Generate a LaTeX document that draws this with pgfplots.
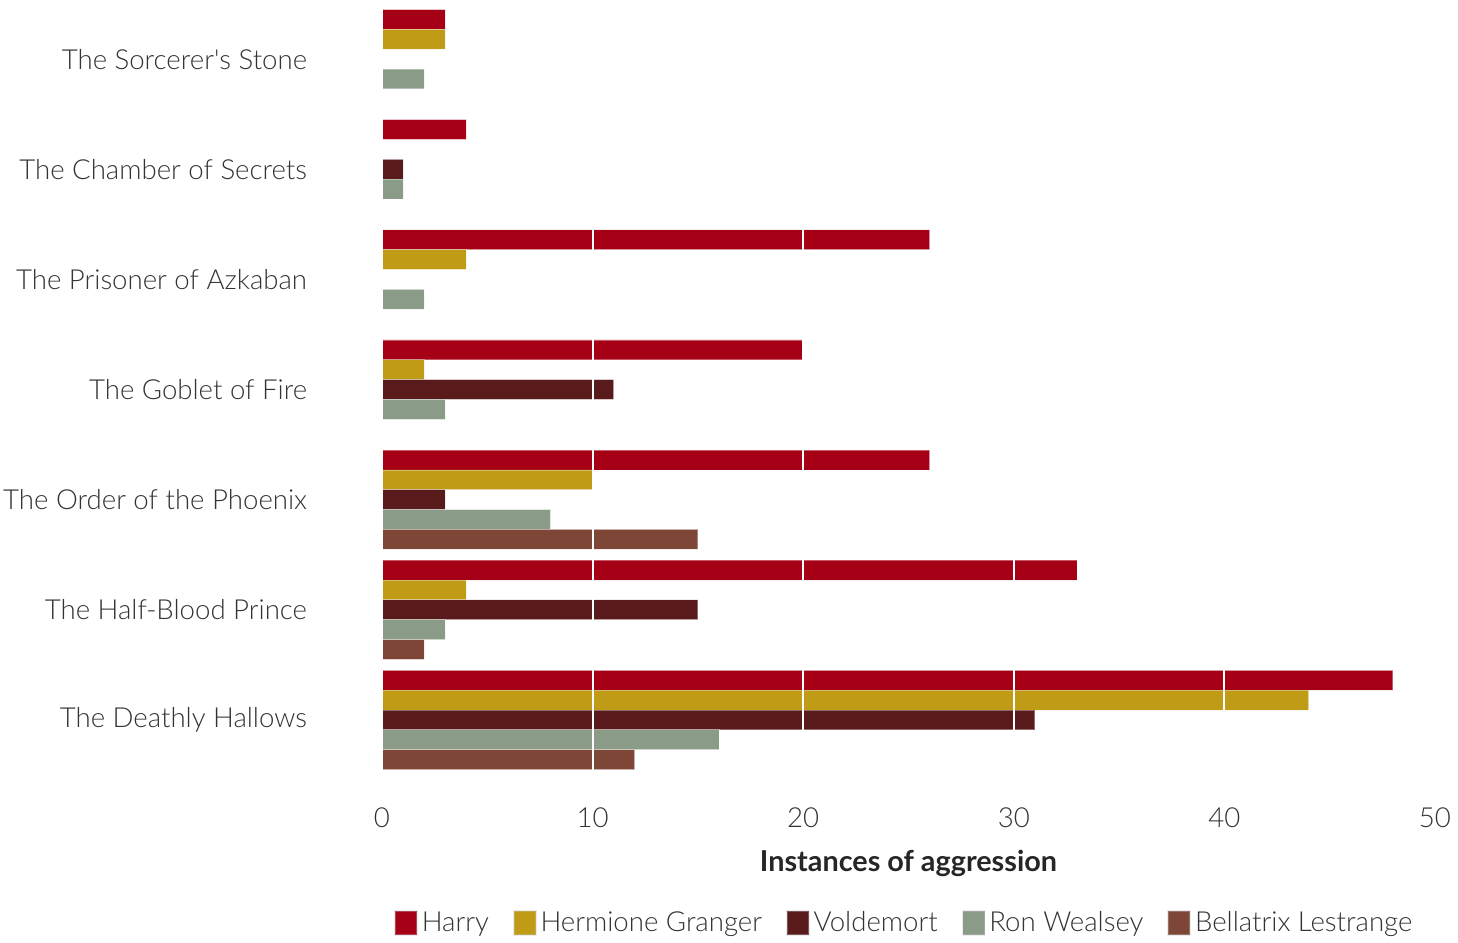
\documentclass[border=0pt]{standalone}
\usepackage{fontspec}
\setmainfont{Lato}[UprightFont=* Light, BoldFont=* Bold]
\usepackage{pgfplots}
\pgfplotsset{compat=1.18}
\definecolor{harry}{HTML}{A50016}
\definecolor{herm}{HTML}{BF9B16}
\definecolor{vold}{HTML}{581A1B}
\definecolor{ron}{HTML}{8A9C88}
\definecolor{bella}{HTML}{7D4636}
\definecolor{txt}{HTML}{333333}
\pgfplotsset{
  mylegend/.style={legend image code/.code={\draw[fill=#1, draw=black!22, line width=0.8pt] (0pt,-6pt) rectangle (11pt,6pt);}},
}
\begin{document}
\begin{tikzpicture}
\useasboundingbox (-191pt,-84pt) rectangle (538pt,387.5pt);
\begin{axis}[
  scale only axis,
  width=526.5pt, height=385.5pt,
  xbar, bar width=0.18,
  y dir=reverse,
  xmin=0, xmax=50, ymin=-0.5, ymax=6.5,
  xtick={0,10,20,30,40,50},
  ytick={0,1,2,3,4,5,6},
  yticklabels={The Sorcerer\textquotesingle s Stone, The Chamber of Secrets, The Prisoner of Azkaban, The Goblet of Fire, The Order of the Phoenix, The Half-Blood Prince, The Deathly Hallows},
  axis line style={draw=none},
  tick style={draw=none},
  xmajorgrids, major grid style={white, line width=1pt},
  axis on top,
  /pgf/number format/assume math mode=true,
  font=\fontsize{13.8}{16}\selectfont,
  every tick label/.append style={text=txt, font=\fontsize{13.8}{16}\selectfont},
  xticklabel style={anchor=center, yshift=-21.5pt, inner sep=0pt},
  yticklabel style={anchor=east, xshift=-33pt, inner sep=0pt},
  xlabel={\textbf{Instances of aggression}},
  xlabel style={at={(axis description cs:0.5,0)}, anchor=center, yshift=-44pt, text=black!85, font=\fontsize{14.4}{16}\selectfont},
  legend columns=5,
  legend style={draw=none, at={(axis description cs:0.497,0)}, anchor=center, yshift=-74pt,
    font=\fontsize{13.8}{16}\selectfont, text=txt,
    /tikz/every even column/.append style={column sep=10pt}},
  legend cell align=left,
  every axis plot/.append style={draw=white, draw opacity=0.35, line width=0.4pt},
]
\addplot[fill=harry, bar shift=-0.36, mylegend=harry] coordinates {(3,0) (4,1) (26,2) (20,3) (26,4) (33,5) (48,6)};
\addlegendentry{Harry}
\addplot[fill=herm, bar shift=-0.18, mylegend=herm] coordinates {(3,0) (4,2) (2,3) (10,4) (4,5) (44,6)};
\addlegendentry{Hermione Granger}
\addplot[fill=vold, bar shift=0, mylegend=vold] coordinates {(1,1) (11,3) (3,4) (15,5) (31,6)};
\addlegendentry{Voldemort}
\addplot[fill=ron, bar shift=0.18, mylegend=ron] coordinates {(2,0) (1,1) (2,2) (3,3) (8,4) (3,5) (16,6)};
\addlegendentry{Ron Wealsey}
\addplot[fill=bella, bar shift=0.36, mylegend=bella] coordinates {(15,4) (2,5) (12,6)};
\addlegendentry{Bellatrix Lestrange}
\end{axis}
\end{tikzpicture}
\end{document}
